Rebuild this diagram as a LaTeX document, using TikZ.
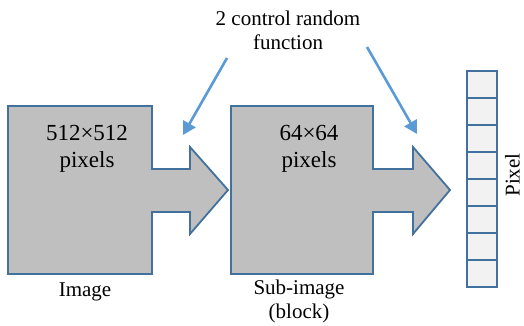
\documentclass[tikz,border=0pt]{standalone}
\usepackage{fontspec}
\setmainfont{Liberation Serif}
\usetikzlibrary{arrows.meta}
\definecolor{edgeblue}{HTML}{41719C}
\definecolor{ctlblue}{HTML}{5B9BD5}
\definecolor{boxgray}{HTML}{BFBFBF}
\definecolor{cellgray}{HTML}{F2F2F2}
\tikzset{
  block/.style={draw=edgeblue,line width=1.8pt,fill=boxgray,line join=miter},
  ctl/.style={draw=ctlblue,line width=2.6pt,-{Triangle[length=13pt,width=14pt]}},
  txt/.style={anchor=base,align=center,inner sep=0pt,font=\fontsize{21}{24.5}\selectfont},
  boxtxt/.style={txt,font=\fontsize{23}{27}\selectfont},
}
\begin{document}
\begin{tikzpicture}[x=1pt,y=-1pt]
    \useasboundingbox (0,0) rectangle (524,326);
    % the two blocks with their arrows
    \draw[block] (8,106) -- (152,106) -- (152,169) -- (190,169) -- (190,147)
      -- (228,190) -- (190,234) -- (190,212) -- (152,212) -- (152,274)
      -- (8,274) -- cycle;
    \draw[block] (231,106) -- (373,106) -- (373,169) -- (413,169) -- (413,147)
      -- (450,190) -- (413,234) -- (413,212) -- (373,212) -- (373,274)
      -- (231,274) -- cycle;
    \node[boxtxt] (img) at (87,167) {512×512\\pixels};
    \node[boxtxt] (sub) at (309,167) {64×64\\pixels};
    \node[txt] (imglabel) at (85,296) {Image};
    \node[txt,font=\fontsize{21}{24}\selectfont] (sublabel) at (299,318) {Sub-image\\(block)};
    \node[txt] (ctrl) at (288,50) {2 control random\\function};
    % pixel column
    \foreach \i in {0,...,7}
      \node[draw=edgeblue,line width=1.8pt,fill=cellgray,minimum width=30pt,
        minimum height=27pt,inner sep=0pt] (p\i) at (482,84.5+27*\i) {};
    \node[txt,rotate=90] (pix) at (519.5,175) {Pixel};
    % control arrows
    \coordinate (f1) at (227,58);
    \coordinate (t1) at (183,135);
    \coordinate (f2) at (367,47);
    \coordinate (t2) at (417,134);
    \draw[ctl] (f1) -- (t1);
    \draw[ctl] (f2) -- (t2);
\end{tikzpicture}
\end{document}
